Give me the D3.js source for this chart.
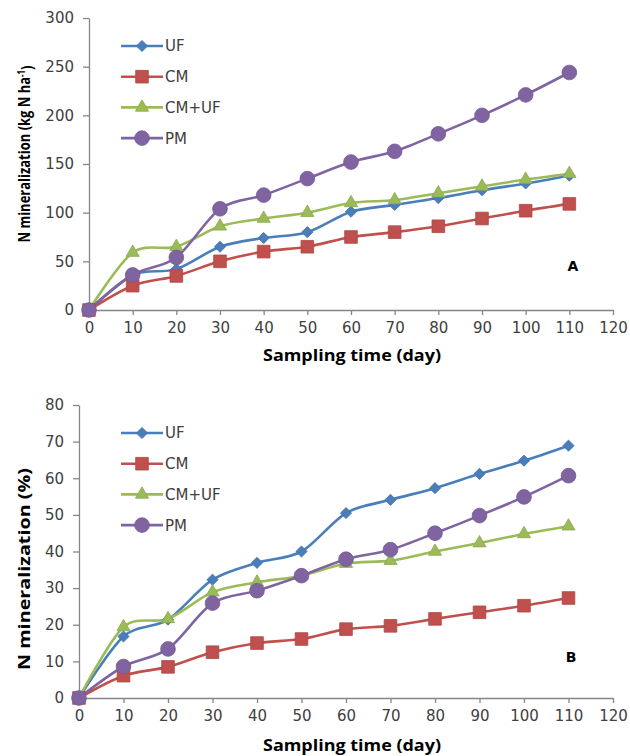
<!DOCTYPE html>
<html>
<head>
<meta charset="utf-8">
<script src="https://cdn.jsdelivr.net/npm/d3@7"></script>
<style>
  body { margin: 0; background: #fff; }
  svg { display: block; }
  .tick text { font-family: "DejaVu Sans", sans-serif; font-size: 15px; fill: #404040; }
  .axis path, .axis line { stroke: #868686; stroke-width: 1.3; }
</style>
</head>
<body>
<div id="chart"></div>
<script>
const days = [0, 10, 20, 30, 40, 50, 60, 70, 80, 90, 100, 110];
const seriesNames = ["UF", "CM", "CM+UF", "PM"];
const seriesColors = ["#4a7ebb", "#c0504d", "#9bbb59", "#8064a2"];
const markerTypes = ["diamond", "square", "triangle", "circle"];

// panel A: kg N / ha
const ufA   = [0, 36, 42, 65, 74, 80, 101, 108, 115, 123, 130, 138];
const cmA   = [0, 25, 35, 50, 60, 65, 75, 80, 86, 94, 102, 109];
const cmufA = [0, 59, 65, 86, 94, 100, 110, 113, 120, 127, 134, 140];
const pmA   = [0, 36, 54, 104, 118, 135, 152, 163, 181, 200, 221, 244];
const yTicksA = [0, 50, 100, 150, 200, 250, 300];

// panel B: percent
const ufB   = [0, 16.8, 21.4, 32.3, 36.9, 40.0, 50.5, 54.1, 57.3, 61.2, 64.8, 68.9];
const cmB   = [0, 6.1, 8.5, 12.5, 15.0, 16.1, 18.8, 19.7, 21.6, 23.4, 25.2, 27.3];
const cmufB = [0, 19.4, 21.6, 28.9, 31.6, 33.4, 36.7, 37.5, 40.0, 42.3, 44.8, 46.9];
const pmB   = [0, 8.6, 13.4, 25.9, 29.3, 33.4, 37.9, 40.5, 45.0, 49.8, 54.9, 60.7];
const yTicksB = [0, 10, 20, 30, 40, 50, 60, 70, 80];

const xTicks = [0, 10, 20, 30, 40, 50, 60, 70, 80, 90, 100, 110, 120];

const svg = d3.select("#chart").append("svg")
  .attr("width", 630)
  .attr("height", 756);

function markerPath(type) {
  if (type === "diamond") return d3.symbol(d3.symbolSquare, 62)();
  if (type === "square") return d3.symbol(d3.symbolSquare, 160)();
  if (type === "triangle") return d3.symbol(d3.symbolTriangle, 75)();
  return d3.symbol(d3.symbolCircle, 170)();
}

function addMarker(g, type, color, x, y) {
  g.append("path")
    .attr("d", markerPath(type))
    .attr("transform", `translate(${x},${y})` + (type === "diamond" ? " rotate(45)" : ""))
    .attr("fill", color)
    .attr("stroke", d3.color(color).darker(0.3))
    .attr("stroke-width", 0.8);
}

function drawPanel(opts) {
  const g = svg.append("g");

  const x = d3.scaleLinear().domain([0, 120]).range([opts.left, 613]);
  const y = d3.scaleLinear().domain([0, opts.yMax]).range([opts.bottom, opts.top]);

  // Y axis
  g.append("g")
    .attr("class", "axis")
    .attr("transform", `translate(${opts.left},0)`)
    .call(d3.axisLeft(y).tickValues(opts.yTicks).tickSize(6).tickSizeOuter(0).tickPadding(9));

  // X axis
  g.append("g")
    .attr("class", "axis")
    .attr("transform", `translate(0,${opts.bottom})`)
    .call(d3.axisBottom(x).tickValues(xTicks).tickSize(5).tickSizeOuter(0).tickPadding(7));

  // Lines (smoothed like the spreadsheet original)
  const line = d3.line()
    .x((d, i) => x(days[i]))
    .y(d => y(d))
    .curve(d3.curveCardinal.tension(0.1));

  opts.series.forEach((vals, s) => {
    g.append("path")
      .datum(vals)
      .attr("d", line)
      .attr("fill", "none")
      .attr("stroke", seriesColors[s])
      .attr("stroke-width", 2.6);
  });

  opts.series.forEach((vals, s) => {
    vals.forEach((v, i) => addMarker(g, markerTypes[s], seriesColors[s], x(days[i]), y(v)));
  });

  // Legend
  const leg = g.append("g");
  seriesNames.forEach((name, s) => {
    const ly = opts.legendTop + s * 30.7;
    leg.append("line")
      .attr("x1", 121).attr("x2", 163)
      .attr("y1", ly).attr("y2", ly)
      .attr("stroke", seriesColors[s])
      .attr("stroke-width", 2.6);
    addMarker(leg, markerTypes[s], seriesColors[s], 142, ly);
    leg.append("text")
      .attr("x", 165)
      .attr("y", ly)
      .attr("dy", "0.36em")
      .style("font-family", "DejaVu Sans, sans-serif")
      .style("font-size", "15px")
      .style("fill", "#404040")
      .text(name);
  });

  // Panel letter
  g.append("text")
    .attr("x", opts.letterX)
    .attr("y", opts.letterY)
    .attr("dy", "0.36em")
    .attr("text-anchor", "middle")
    .style("font-family", "DejaVu Sans, sans-serif")
    .style("font-size", "14px")
    .style("font-weight", "bold")
    .text(opts.letter);

  // Axis titles
  g.append("text")
    .attr("x", 352)
    .attr("y", opts.xTitleY)
    .attr("dy", "0.36em")
    .attr("text-anchor", "middle")
    .attr("textLength", 178)
    .attr("lengthAdjust", "spacingAndGlyphs")
    .style("font-family", "Open Sans, sans-serif")
    .style("font-size", "16px")
    .style("font-weight", "bold")
    .text("Sampling time (day)");

  const yt = g.append("text")
    .attr("transform", `translate(24,${opts.yTitleY}) rotate(-90)`)
    .attr("dy", "0.36em")
    .attr("text-anchor", "middle")
    .attr("textLength", opts.yTitleLen)
    .attr("lengthAdjust", "spacingAndGlyphs")
    .style("font-family", opts.yTitleFont)
    .style("font-size", "16.5px")
    .style("font-weight", "bold");
  yt.append("tspan").text(opts.yTitle);
  if (opts.yTitleSup) {
    yt.append("tspan").attr("dy", "-0.45em").style("font-size", "10px").text(opts.yTitleSup);
    yt.append("tspan").attr("dy", "0.45em").text(")");
  }
}

drawPanel({
  left: 89, top: 18, bottom: 310, yMax: 300, yTicks: yTicksA,
  series: [ufA, cmA, cmufA, pmA],
  legendTop: 46, letter: "A", letterX: 573, letterY: 266,
  xTitleY: 355, yTitleY: 154, yTitleLen: 177,
  yTitleFont: "'Liberation Sans Narrow', 'Open Sans', sans-serif",
  yTitle: "N mineralization (kg N ha", yTitleSup: "-1"
});

drawPanel({
  left: 79, top: 405, bottom: 698, yMax: 80, yTicks: yTicksB,
  series: [ufB, cmB, cmufB, pmB],
  legendTop: 433, letter: "B", letterX: 571, letterY: 657,
  xTitleY: 745, yTitleY: 569, yTitleLen: 202,
  yTitleFont: "'Open Sans', sans-serif",
  yTitle: "N mineralization (%)", yTitleSup: null
});
</script>
</body>
</html>
